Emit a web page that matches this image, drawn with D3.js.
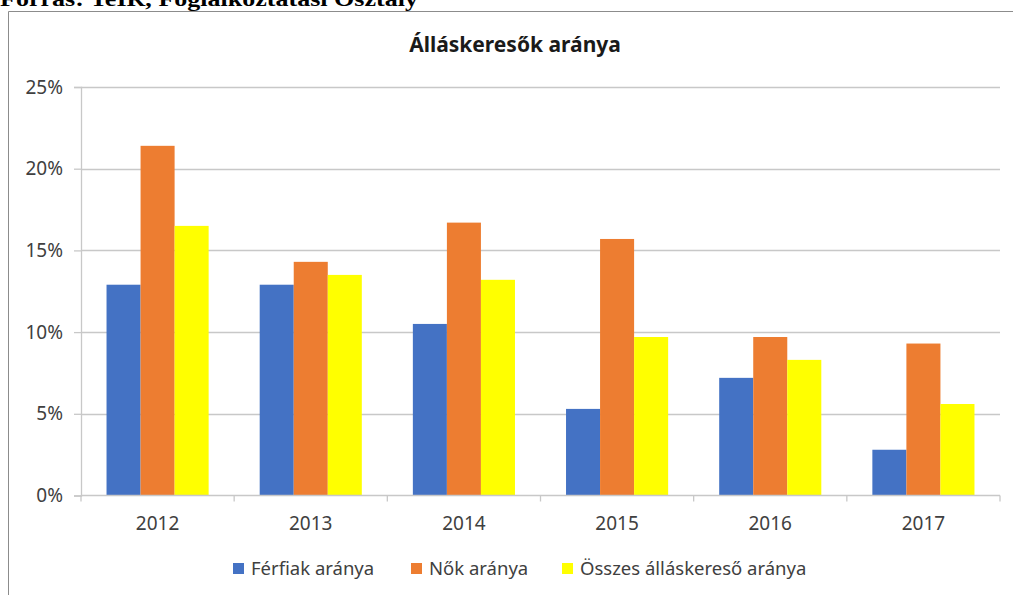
<!DOCTYPE html>
<html>
<head>
<meta charset="utf-8">
<script src="https://cdn.jsdelivr.net/npm/d3@7"></script>
<style>
  html, body { margin: 0; padding: 0; background: #fff; }
  svg { display: block; }
</style>
</head>
<body>
<svg id="chart" width="1013" height="595"></svg>
<script>
  // Álláskeresők aránya, 2012–2017
  const years = ["2012", "2013", "2014", "2015", "2016", "2017"];
  const seriesNames = ["Férfiak aránya", "Nők aránya", "Összes álláskereső aránya"];
  const ferfiak = [12.9, 12.9, 10.5, 5.3, 7.2, 2.8];
  const nok = [21.4, 14.3, 16.7, 15.7, 9.7, 9.3];
  const osszes = [16.5, 13.5, 13.2, 9.7, 8.3, 5.6];
  const yTicks = [0, 5, 10, 15, 20, 25];

  const colors = ["#4472C4", "#ED7D31", "#FFFF00"];
  const seriesValues = [ferfiak, nok, osszes];

  const svg = d3.select("#chart");
  const font = "'Noto Sans', 'Open Sans', sans-serif";

  // source line, cut off by the top of the page (as in the original)
  svg.append("text")
    .attr("x", 0).attr("y", 6)
    .attr("font-family", "'Liberation Serif', 'DejaVu Serif', serif")
    .attr("font-weight", 700).attr("font-size", 22)
    .attr("textLength", 418).attr("lengthAdjust", "spacingAndGlyphs")
    .attr("fill", "#000")
    .text("Forrás: TeIR, Foglalkoztatási Osztály");

  // chart frame (only the top and left edges are in view)
  svg.append("path")
    .attr("d", "M8.5,595 V11.5 H1013")
    .attr("fill", "none").attr("stroke", "#8c8c8c").attr("stroke-width", 1);

  svg.append("text")
    .attr("x", 515).attr("y", 52)
    .attr("text-anchor", "middle")
    .attr("font-family", font).attr("font-weight", 700).attr("font-size", 21)
    .attr("fill", "#1a1a1a")
    .text("Álláskeresők aránya");

  const plot = { left: 81, right: 1000, top: 87, bottom: 495.5 };

  const x = d3.scaleBand().domain(years)
    .range([plot.left, plot.right])
    .paddingInner(1 / 3).paddingOuter(1 / 6);
  const xs = d3.scaleBand().domain(d3.range(seriesNames.length))
    .range([0, x.bandwidth()]);
  const y = d3.scaleLinear().domain([0, 25]).range([plot.bottom, plot.top]);
  const step = x.step();

  // gridlines
  svg.append("g").selectAll("line").data(yTicks.filter(d => d > 0)).join("line")
    .attr("x1", plot.left).attr("x2", plot.right)
    .attr("y1", d => Math.round(y(d)) + 0.5).attr("y2", d => Math.round(y(d)) + 0.5)
    .attr("stroke", "#c8c8c8").attr("stroke-width", 1.3);

  // y axis
  const yAxis = svg.append("g")
    .attr("transform", `translate(${plot.left},0)`)
    .call(d3.axisLeft(y).tickValues(yTicks).tickSize(7).tickPadding(11)
      .tickFormat(d => d + "%"));
  yAxis.select(".domain").attr("stroke", "#c8c8c8").attr("stroke-width", 1.3);
  yAxis.selectAll(".tick line").attr("stroke", "#c8c8c8").attr("stroke-width", 1.3);
  yAxis.selectAll(".tick text")
    .attr("font-family", font).attr("font-size", 19).attr("fill", "#404040");

  // bars
  const groups = svg.append("g").selectAll("g").data(years).join("g")
    .attr("transform", d => `translate(${x(d)},0)`);
  groups.selectAll("rect")
    .data((d, i) => seriesValues.map((vals, s) => ({ s, v: vals[i] })))
    .join("rect")
    .attr("x", d => xs(d.s))
    .attr("width", xs.bandwidth())
    .attr("y", d => y(d.v))
    .attr("height", d => y(0) - y(d.v))
    .attr("fill", d => colors[d.s]);

  // x axis: line + ticks at category boundaries
  const xAxis = svg.append("g");
  xAxis.append("line")
    .attr("x1", plot.left).attr("x2", plot.right)
    .attr("y1", plot.bottom).attr("y2", plot.bottom)
    .attr("stroke", "#c8c8c8").attr("stroke-width", 1.3);
  xAxis.selectAll(".bt").data(d3.range(years.length + 1)).join("line")
    .attr("class", "bt")
    .attr("x1", i => plot.left + i * step).attr("x2", i => plot.left + i * step)
    .attr("y1", plot.bottom).attr("y2", plot.bottom + 6)
    .attr("stroke", "#c8c8c8").attr("stroke-width", 1.3);
  xAxis.selectAll("text").data(years).join("text")
    .attr("x", d => x(d) + x.bandwidth() / 2).attr("y", 530)
    .attr("text-anchor", "middle")
    .attr("font-family", font).attr("font-size", 19).attr("fill", "#404040")
    .text(d => d);

  // legend
  const legendX = [233, 411, 562];
  const legend = svg.append("g").selectAll("g").data(seriesNames).join("g")
    .attr("transform", (d, i) => `translate(${legendX[i]},563)`);
  legend.append("rect")
    .attr("width", 11).attr("height", 11)
    .attr("fill", (d, i) => colors[i]);
  legend.append("text")
    .attr("x", 18).attr("y", 12)
    .attr("font-family", font).attr("font-size", 18.5).attr("fill", "#404040")
    .text(d => d);
</script>
</body>
</html>
